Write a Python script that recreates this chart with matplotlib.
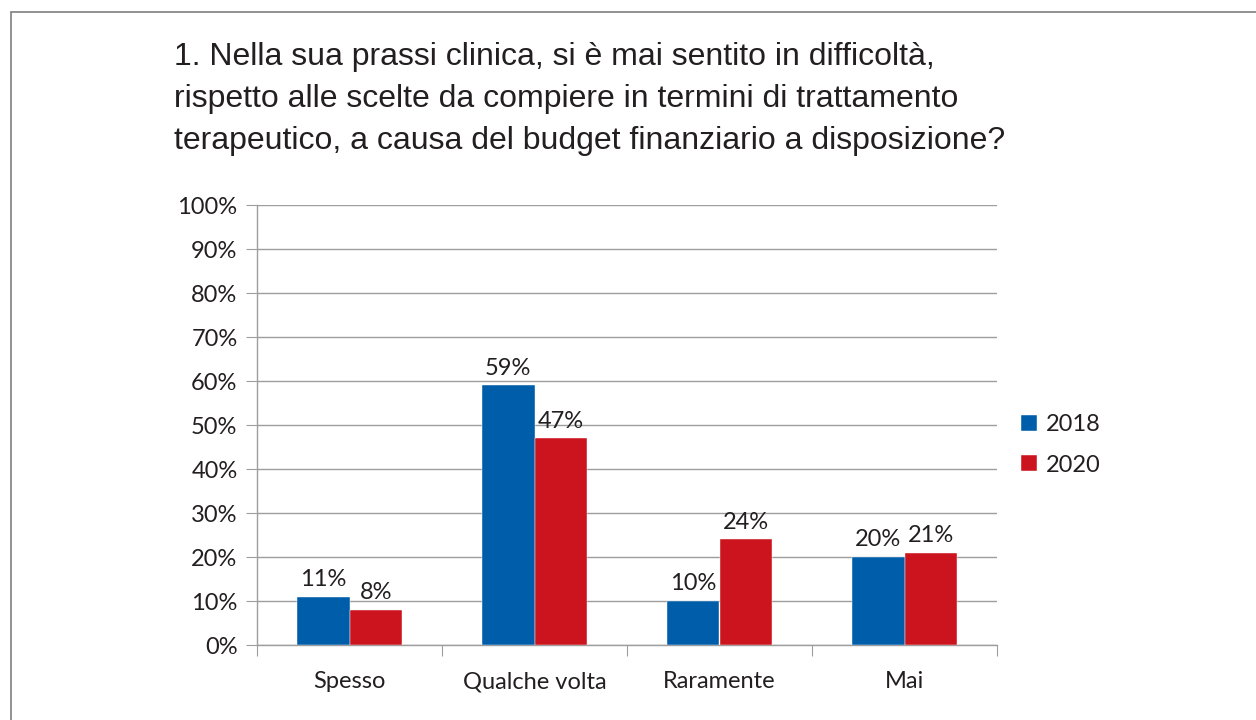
import matplotlib.pyplot as plt
import numpy as np
from matplotlib.patches import Rectangle

# dati
categories = ["Spesso", "Qualche volta", "Raramente", "Mai"]
years = ["2018", "2020"]
v2018 = [11, 59, 10, 20]
v2020 = [8, 47, 24, 21]
colors = ["#005DAA", "#CC141E"]

title = ("1. Nella sua prassi clinica, si è mai sentito in difficoltà,\n"
         "rispetto alle scelte da compiere in termini di trattamento\n"
         "terapeutico, a causa del budget finanziario a disposizione?")

W, H = 1256, 720
fig = plt.figure(figsize=(W / 100, H / 100), dpi=100)
fig.patch.set_facecolor("white")

# cornice esterna
fig.add_artist(Rectangle((11 / W, -0.1), 1.2, 1 - 12 / H + 0.1, transform=fig.transFigure,
                         fill=False, edgecolor="#7f7f7f", lw=1.2))

fig.text(174 / W, 1 - 42 / H, title, ha="left", va="top", fontsize=23,
         family="Liberation Sans", color="#231f20", linespacing=1.52)

ax = fig.add_axes([257 / W, 1 - 645 / H, (997 - 257) / W, (645 - 205) / H])
x = np.arange(len(categories))
bw = 0.286
bars = []
for i, (vals, yr) in enumerate(zip([v2018, v2020], years)):
    b = ax.bar(x + (i - 0.5) * bw, vals, bw, color=colors[i], label=yr, zorder=3,
               edgecolor="white", linewidth=0.3)
    bars.append(b)
    for xi, v in zip(x + (i - 0.5) * bw, vals):
        ax.text(xi, v + 1.5, f"{v}%", ha="center", va="bottom", fontsize=17,
                family="Lato", color="#231f20")

ax.set_xlim(-0.5, len(categories) - 0.5)
ax.set_ylim(0, 100)
ax.set_yticks(range(0, 101, 10))
ax.set_yticklabels([f"{t}%" for t in range(0, 101, 10)], fontsize=17, family="Lato", color="#231f20")
ax.yaxis.grid(True, color="#9e9e9e", lw=1, zorder=0)
ax.set_xticks(np.arange(-0.5, len(categories), 1))
ax.set_xticklabels([])
ax.set_xticks(x, minor=True)
ax.set_xticklabels(categories, minor=True, fontsize=17, family="Lato", color="#231f20")
ax.tick_params(axis="x", which="major", length=8, color="#9e9e9e", direction="out")
ax.tick_params(axis="x", which="minor", length=0, pad=19)
ax.tick_params(axis="y", length=8, color="#9e9e9e", pad=6)
for s in ["top", "right"]:
    ax.spines[s].set_visible(False)
for s in ["left", "bottom"]:
    ax.spines[s].set_color("#9e9e9e")
    ax.spines[s].set_linewidth(1)

leg = fig.legend(handles=bars, labels=years, loc="upper left", bbox_to_anchor=(1000 / W, 1 - 393 / H),
                 frameon=False, prop={"family": "Lato", "size": 17}, handlelength=0.65,
                 handleheight=0.65, handletextpad=0.4, labelspacing=0.82)
for t in leg.get_texts():
    t.set_color("#231f20")

fig.savefig("out.png", dpi=100, facecolor="white")
